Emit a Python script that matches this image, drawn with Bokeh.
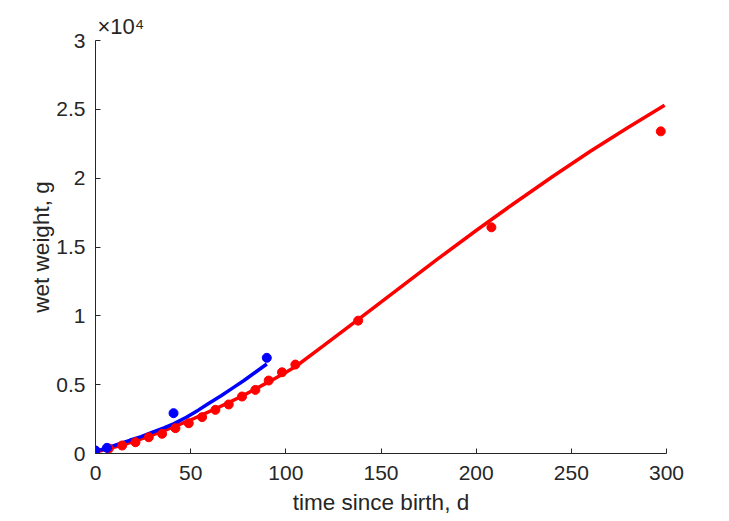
from bokeh.plotting import figure
from bokeh.models import Range1d, FixedTicker, Title
from bokeh.embed import file_html
from bokeh.resources import INLINE

# data points (time since birth, d ; wet weight, g)
red_t = [0, 7, 14, 21, 28, 35, 42, 49, 56, 63, 70, 77, 84, 91, 98, 105, 138, 208, 297]
red_w = [200, 360, 580, 820, 1180, 1430, 1840, 2200, 2640, 3170, 3560, 4140, 4620, 5300, 5900, 6460, 9650, 16430, 23400]
blue_t = [0, 6, 41, 90]
blue_w = [220, 410, 2930, 6950]

# model curves
red_curve_t = [0, 7, 14, 21, 28, 35, 42, 49, 56, 63, 70, 77, 84, 91, 98, 105, 120, 140, 160, 180, 200, 220, 240, 260, 280, 299]
red_curve_w = [100, 360, 620, 920, 1250, 1600, 1980, 2380, 2800, 3250, 3700, 4180, 4680, 5200, 5740, 6300, 7850, 9950, 12050, 14150, 16200, 18180, 20100, 21950, 23700, 25300]
blue_curve_t = [0, 6, 12, 18, 24, 30, 36, 41, 48, 54, 59, 66, 72, 78, 84, 90]
blue_curve_w = [150, 400, 680, 960, 1230, 1550, 1860, 2150, 2650, 3150, 3600, 4200, 4750, 5300, 5900, 6500]

x_ticks = [0, 50, 100, 150, 200, 250, 300]
y_ticks = [0, 5000, 10000, 15000, 20000, 25000, 30000]
y_tick_labels = ["0", "0.5", "1", "1.5", "2", "2.5", "3"]
exponent_text = "\u00d710\u2074"

FONT = "Liberation Sans"
TXT = "#262626"

p = figure(width=729, height=521, output_backend="svg", toolbar_location=None,
           x_range=Range1d(0, 300), y_range=Range1d(0, 30000),
           min_border_left=95, min_border_right=63, min_border_top=40, min_border_bottom=68)
p.outline_line_color = None
p.grid.visible = False
p.background_fill_color = "white"
p.border_fill_color = "white"

p.line(red_curve_t, red_curve_w, line_color="#FF0000", line_width=3.5)
p.line(blue_curve_t, blue_curve_w, line_color="#0000FF", line_width=3.5)
p.scatter(red_t, red_w, size=9, fill_color="#FF0000", line_color="#FF0000")
p.scatter(blue_t, blue_w, size=9, fill_color="#0000FF", line_color="#0000FF")

for ax in (p.xaxis[0], p.yaxis[0]):
    ax.axis_line_color = TXT
    ax.major_tick_line_color = TXT
    ax.major_tick_in = 5
    ax.major_tick_out = 0
    ax.minor_tick_line_color = None
    ax.major_label_text_font = FONT
    ax.major_label_text_font_size = "21px"
    ax.major_label_text_color = TXT
    ax.axis_label_text_font = FONT
    ax.axis_label_text_font_size = "22.5px"
    ax.axis_label_text_font_style = "normal"
    ax.axis_label_text_color = TXT

p.xaxis.ticker = FixedTicker(ticks=x_ticks)
p.yaxis.ticker = FixedTicker(ticks=y_ticks)
p.yaxis.major_label_overrides = {t: l for t, l in zip(y_ticks, y_tick_labels)}
p.xaxis.axis_label = "time since birth, d"
p.yaxis.axis_label = "wet weight, g"
p.xaxis.major_label_standoff = 12
p.yaxis.major_label_standoff = 10
p.xaxis.axis_label_standoff = 7
p.yaxis.axis_label_standoff = -1

# exponent marker above the y axis
p.add_layout(Title(text=exponent_text, align="left", offset=2, standoff=4,
                   text_font=FONT, text_font_size="22px", text_font_style="normal",
                   text_color=TXT), "above")

open("out.html", "w").write(file_html(p, INLINE))
